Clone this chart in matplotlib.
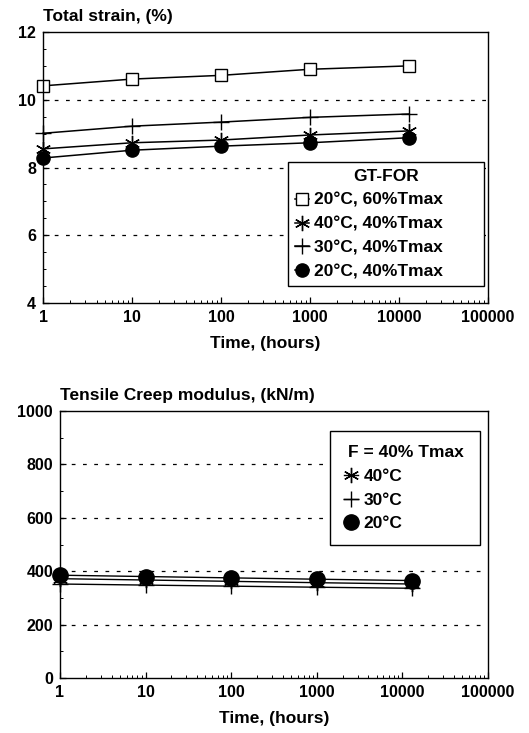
import matplotlib
matplotlib.use("Agg")
import matplotlib.pyplot as plt
from matplotlib.ticker import FixedLocator, LogLocator, NullFormatter, MultipleLocator

plt.rcParams["font.family"] = ["Liberation Sans", "DejaVu Sans"]
plt.rcParams["font.weight"] = "bold"

# Time points (hours)
hours = [1, 10, 100, 1000, 13000]

# Total strain (%) for GT-FOR
strain_labels = ["20°C, 60%Tmax", "40°C, 40%Tmax", "30°C, 40%Tmax", "20°C, 40%Tmax"]
strain_20c_60 = [10.41, 10.61, 10.72, 10.90, 11.00]
strain_40c_40 = [8.55, 8.73, 8.81, 8.96, 9.08]
strain_30c_40 = [9.01, 9.22, 9.34, 9.48, 9.58]
strain_20c_40 = [8.28, 8.51, 8.63, 8.73, 8.88]

# Tensile creep modulus (kN/m) at F = 40% Tmax
modulus_labels = ["40°C", "30°C", "20°C"]
modulus_40c = [372, 367, 362, 357, 352]
modulus_30c = [352, 348, 344, 340, 336]
modulus_20c = [385, 380, 375, 370, 365]

xticks = [1, 10, 100, 1000, 10000, 100000]
xticklabels = ["1", "10", "100", "1000", "10000", "100000"]

fig = plt.figure(figsize=(5.29, 7.33), dpi=100)
ax1 = fig.add_axes([43 / 529, (733 - 303) / 733, 445 / 529, 271 / 733])
ax2 = fig.add_axes([60 / 529, (733 - 678) / 733, 428 / 529, 267 / 733])

TICK_FS = 11.5
FS = 12.5


def style_axis(ax, ymin, ymax, ystep, yminor, grid_vals):
    ax.set_xscale("log")
    ax.set_xlim(1, 100000)
    ax.set_ylim(ymin, ymax)
    ax.xaxis.set_major_locator(FixedLocator(xticks))
    ax.set_xticklabels(xticklabels)
    ax.xaxis.set_minor_locator(LogLocator(base=10, subs=range(2, 10), numticks=20))
    ax.xaxis.set_minor_formatter(NullFormatter())
    ax.yaxis.set_major_locator(MultipleLocator(ystep))
    ax.yaxis.set_minor_locator(MultipleLocator(yminor))
    ax.tick_params(axis="both", which="major", direction="in", length=4,
                   width=0.9, labelsize=TICK_FS, pad=5)
    ax.tick_params(axis="both", which="minor", direction="in", length=2.5, width=0.7)
    for lab in ax.get_xticklabels() + ax.get_yticklabels():
        lab.set_fontweight("bold")
    for sp in ax.spines.values():
        sp.set_linewidth(1.0)
    for g in grid_vals:
        ax.axhline(g, color="black", lw=0.9, ls=(0, (3, 6)), zorder=0)
    ax.set_xlabel("Time, (hours)", fontsize=FS, fontweight="bold", labelpad=8)


def style_legend(leg):
    leg.get_title().set_fontweight("bold")
    leg.get_frame().set_linewidth(1.0)
    for t in leg.get_texts():
        t.set_fontweight("bold")


# Top chart: total strain
style_axis(ax1, 4, 12, 2, 0.5, [6, 8, 10])
ax1.plot(hours, strain_20c_60, color="black", lw=1.1, marker="s", ms=8.5,
         mfc="white", mec="black", mew=1.0, label=strain_labels[0], clip_on=False)
ax1.plot(hours, strain_40c_40, color="black", lw=1.1, marker=(6, 2, 0), ms=11,
         mew=1.0, label=strain_labels[1], clip_on=False)
ax1.plot(hours, strain_30c_40, color="black", lw=1.1, marker="+", ms=12,
         mew=1.0, label=strain_labels[2], clip_on=False)
ax1.plot(hours, strain_20c_40, color="black", lw=1.1, marker="o", ms=9.5,
         mfc="black", mec="black", label=strain_labels[3], clip_on=False)
ax1.text(0.0, 1.03, "Total strain, (%)", transform=ax1.transAxes,
         fontsize=FS, fontweight="bold", ha="left", va="bottom")
leg1 = ax1.legend(loc="upper left", bbox_to_anchor=(0.551, 0.52, 0.44, 0.0),
                  mode="expand", title="GT-FOR", fontsize=FS, title_fontsize=FS,
                  frameon=True, fancybox=False, edgecolor="black", framealpha=1,
                  handlelength=0.8, handletextpad=0.3, labelspacing=0.5,
                  borderpad=0.4, borderaxespad=0)
style_legend(leg1)

# Bottom chart: tensile creep modulus
style_axis(ax2, 0, 1000, 200, 100, [200, 400, 600, 800])
ax2.plot(hours, modulus_40c, color="black", lw=1.0, marker=(6, 2, 0), ms=11,
         mew=1.0, label=modulus_labels[0], clip_on=False)
ax2.plot(hours, modulus_30c, color="black", lw=1.0, marker="+", ms=12,
         mew=1.0, label=modulus_labels[1], clip_on=False)
ax2.plot(hours, modulus_20c, color="black", lw=1.0, marker="o", ms=11,
         mfc="black", mec="black", label=modulus_labels[2], clip_on=False)
ax2.text(0.0, 1.03, "Tensile Creep modulus, (kN/m)", transform=ax2.transAxes,
         fontsize=FS, fontweight="bold", ha="left", va="bottom")
leg2 = ax2.legend(loc="upper left", bbox_to_anchor=(0.632, 0.925, 0.35, 0.0),
                  mode="expand", title="F = 40% Tmax", fontsize=FS,
                  title_fontsize=FS, frameon=True, fancybox=False, framealpha=1,
                  edgecolor="black", handlelength=0.8, handletextpad=0.3,
                  labelspacing=0.5, borderpad=0.8, borderaxespad=0)
style_legend(leg2)

fig.savefig("out.png", dpi=100, facecolor="white")
